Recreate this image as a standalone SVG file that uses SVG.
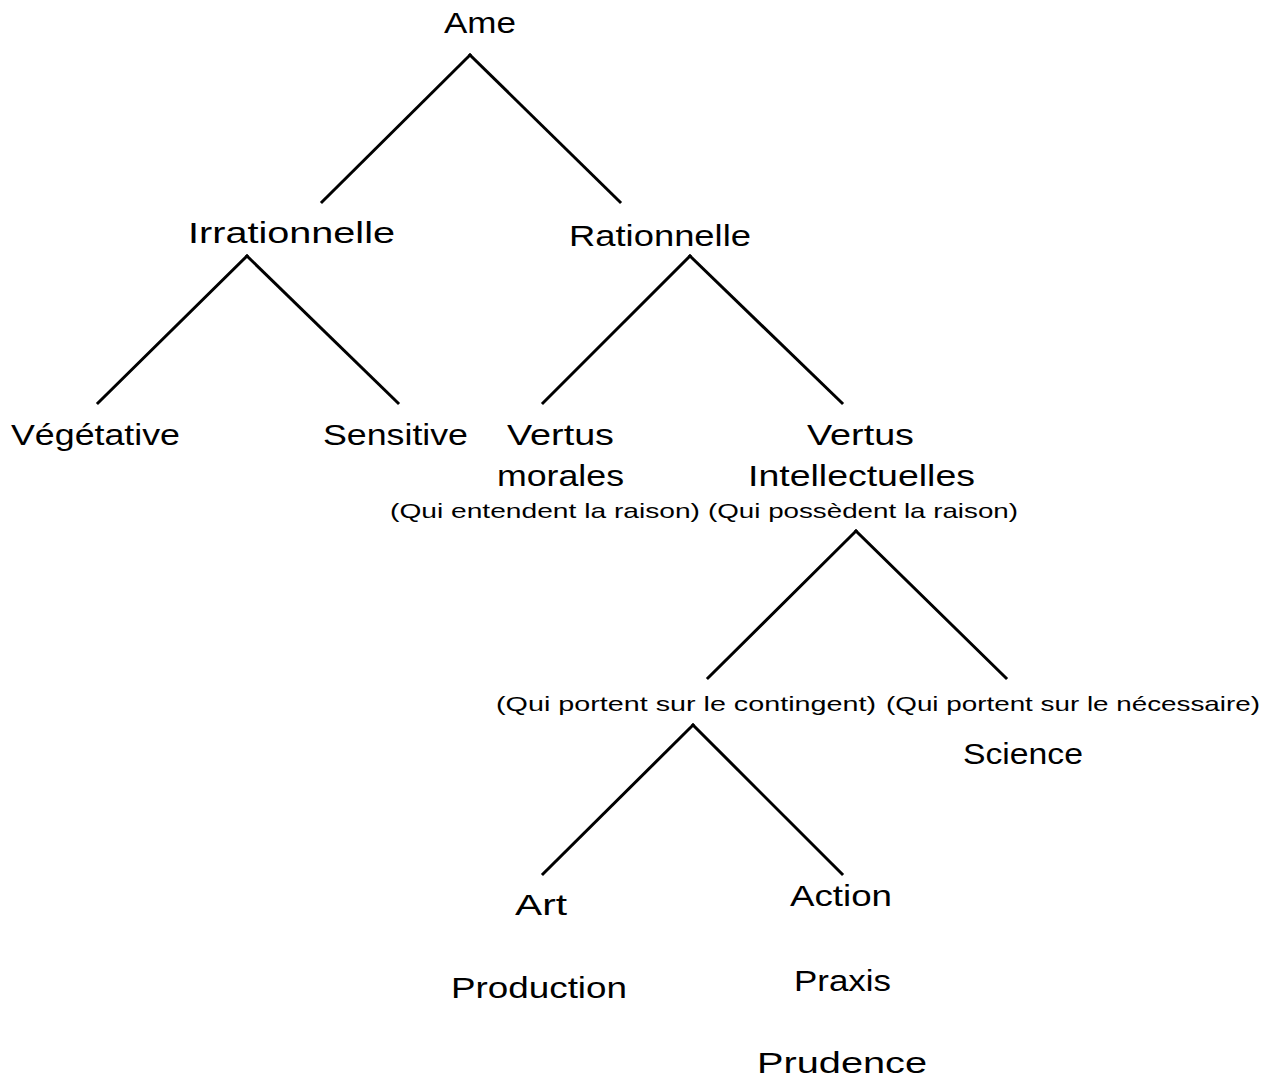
<svg xmlns="http://www.w3.org/2000/svg" width="1278" height="1077" viewBox="0 0 1278 1077">
<style>
text{font-family:"Liberation Sans",Arial,sans-serif;fill:#000}
.m{font-size:29px}
.s{font-size:21px}
.c line{stroke:#000;stroke-width:3;stroke-linecap:square}
</style>
<rect width="1278" height="1077" fill="#fff"/>
<g class="c" id="connectors">
<line x1="470" y1="55" x2="322" y2="202"/>
<line x1="470" y1="55" x2="620" y2="202"/>
<line x1="247" y1="256" x2="98" y2="403"/>
<line x1="247" y1="256" x2="398" y2="403"/>
<line x1="690" y1="256" x2="543" y2="403"/>
<line x1="690" y1="256" x2="842" y2="403"/>
<line x1="856" y1="531" x2="708" y2="678"/>
<line x1="856" y1="531" x2="1006" y2="678"/>
<line x1="693" y1="725" x2="543" y2="874"/>
<line x1="693" y1="725" x2="842" y2="874"/>
</g>
<g id="ame"><text class="m" x="444" y="33" textLength="72" lengthAdjust="spacingAndGlyphs">Ame</text></g>
<g id="irrationnelle"><text class="m" x="188" y="243" textLength="207" lengthAdjust="spacingAndGlyphs">Irrationnelle</text></g>
<g id="rationnelle"><text class="m" x="569" y="246" textLength="182" lengthAdjust="spacingAndGlyphs">Rationnelle</text></g>
<g id="vegetative"><text class="m" x="11" y="445" textLength="169" lengthAdjust="spacingAndGlyphs">Végétative</text></g>
<g id="sensitive"><text class="m" x="323" y="445" textLength="145" lengthAdjust="spacingAndGlyphs">Sensitive</text></g>
<g id="vertus-morales">
<text class="m" x="507" y="445" textLength="107" lengthAdjust="spacingAndGlyphs">Vertus</text>
<text class="m" x="497" y="486" textLength="127" lengthAdjust="spacingAndGlyphs">morales</text>
<text class="s" x="390" y="518" textLength="310" lengthAdjust="spacingAndGlyphs">(Qui entendent la raison)</text>
</g>
<g id="vertus-intellectuelles">
<text class="m" x="807" y="445" textLength="107" lengthAdjust="spacingAndGlyphs">Vertus</text>
<text class="m" x="748" y="486" textLength="227" lengthAdjust="spacingAndGlyphs">Intellectuelles</text>
<text class="s" x="708" y="518" textLength="310" lengthAdjust="spacingAndGlyphs">(Qui possèdent la raison)</text>
</g>
<g id="contingent"><text class="s" x="496" y="711" textLength="380" lengthAdjust="spacingAndGlyphs">(Qui portent sur le contingent)</text></g>
<g id="science">
<text class="s" x="886" y="711" textLength="374" lengthAdjust="spacingAndGlyphs">(Qui portent sur le nécessaire)</text>
<text class="m" x="963" y="764" textLength="120" lengthAdjust="spacingAndGlyphs">Science</text>
</g>
<g id="art">
<text class="m" x="515" y="915" textLength="52" lengthAdjust="spacingAndGlyphs">Art</text>
<text class="m" x="451" y="998" textLength="176" lengthAdjust="spacingAndGlyphs">Production</text>
</g>
<g id="action">
<text class="m" x="790" y="906" textLength="102" lengthAdjust="spacingAndGlyphs">Action</text>
<text class="m" x="794" y="991" textLength="97" lengthAdjust="spacingAndGlyphs">Praxis</text>
<text class="m" x="757" y="1073" textLength="170" lengthAdjust="spacingAndGlyphs">Prudence</text>
</g>
</svg>
